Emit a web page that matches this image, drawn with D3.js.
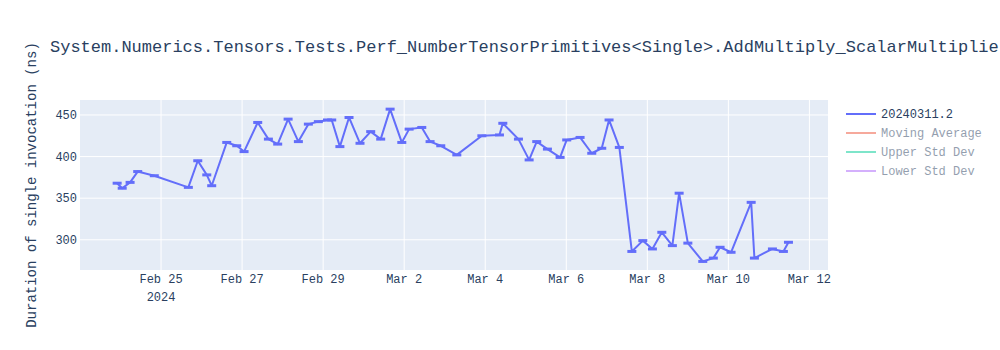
<!DOCTYPE html>
<html>
<head>
<meta charset="utf-8">
<script src="https://cdn.jsdelivr.net/npm/d3@7"></script>
<style>
	html, body { margin: 0; padding: 0; background: #fff; }
	svg { display: block; font-family: "Liberation Mono", "Courier New", monospace; }
</style>
</head>
<body>
<svg id="chart" width="1000" height="350"></svg>
<script>
'use strict';

var title = 'System.Numerics.Tensors.Tests.Perf_NumberTensorPrimitives<Single>.AddMultiply_ScalarMultiplier';
var yTitle = 'Duration of single invocation (ns)';
var seriesNames = ['20240311.2', 'Moving Average', 'Upper Std Dev', 'Lower Std Dev'];
var seriesColors = ['#636efa', '#EF553B', '#00cc96', '#ab63fa'];

var dates = [
	'2024-02-23T22:00', '2024-02-24T01:00', '2024-02-24T05:40', '2024-02-24T10:10', '2024-02-24T20:00',
	'2024-02-25T16:10', '2024-02-25T21:45', '2024-02-26T03:05', '2024-02-26T06:00', '2024-02-26T14:55',
	'2024-02-26T20:50', '2024-02-27T01:10', '2024-02-27T09:15', '2024-02-27T15:35', '2024-02-27T21:05',
	'2024-02-28T03:15', '2024-02-28T09:20', '2024-02-28T15:15', '2024-02-28T21:10', '2024-02-29T02:35',
	'2024-02-29T05:05', '2024-02-29T09:55', '2024-02-29T15:20', '2024-02-29T21:50', '2024-03-01T04:10',
	'2024-03-01T10:05', '2024-03-01T15:40', '2024-03-01T22:35', '2024-03-02T02:55', '2024-03-02T10:25',
	'2024-03-02T15:20', '2024-03-02T21:40', '2024-03-03T07:10', '2024-03-03T22:00', '2024-03-04T08:25',
	'2024-03-04T10:25', '2024-03-04T19:40', '2024-03-05T02:00', '2024-03-05T06:30', '2024-03-05T12:50',
	'2024-03-05T20:20', '2024-03-06T00:15', '2024-03-06T08:10', '2024-03-06T15:05', '2024-03-06T21:00',
	'2024-03-07T01:20', '2024-03-07T07:25', '2024-03-07T14:50', '2024-03-07T21:20', '2024-03-08T03:00',
	'2024-03-08T08:35', '2024-03-08T14:50', '2024-03-08T18:50', '2024-03-09T00:00', '2024-03-09T08:50',
	'2024-03-09T15:05', '2024-03-09T19:05', '2024-03-10T01:35', '2024-03-10T13:30', '2024-03-10T15:25',
	'2024-03-11T02:05', '2024-03-11T08:35', '2024-03-11T11:35'
];
var values = [
	368, 362, 369, 382, 377,
	363, 395, 378, 365, 417,
	413, 406, 441, 421, 415,
	445, 418, 439, 442, 444,
	444, 412, 447, 416, 430,
	421, 457, 417, 433, 435,
	418, 413, 402, 425, 426,
	440, 421, 396, 418, 409,
	399, 420, 423, 404, 410,
	444, 411, 286, 299, 289,
	309, 293, 356, 296, 274,
	278, 291, 285, 345, 278,
	289, 286, 297
];

var xTicks = ['2024-02-25', '2024-02-27', '2024-02-29', '2024-03-02', '2024-03-04',
	'2024-03-06', '2024-03-08', '2024-03-10', '2024-03-12'];
var yTicks = [300, 350, 400, 450];
var xRange = ['2024-02-23T00:00', '2024-03-12T11:00'];
var yRange = [263.7, 468];

(function() {

	var parse = d3.utcParse('%Y-%m-%dT%H:%M');
	var parseDay = d3.utcParse('%Y-%m-%d');
	var fmt = d3.utcFormat('%b %-d');
	var textColor = '#2a3f5f';

	var left = 80, right = 828, top = 100, bottom = 270;

	var points = [];
	dates.forEach(function(d, i) {
		points.push({ date: parse(d), value: values[i] });
	});

	var x = d3.scaleUtc()
		.domain([parse(xRange[0]), parse(xRange[1])])
		.range([left, right]);
	var y = d3.scaleLinear()
		.domain(yRange)
		.range([bottom, top]);

	var svg = d3.select('svg#chart');

	svg.append('rect')
		.attr('x', left)
		.attr('y', top)
		.attr('width', right - left)
		.attr('height', bottom - top)
		.style('fill', '#e5ecf6');

	var tickDates = xTicks.map(function(t) { return parseDay(t); });

	// grid
	svg.append('g').selectAll('line')
		.data(tickDates)
		.enter()
		.append('line')
		.attr('x1', function(d) { return x(d); })
		.attr('x2', function(d) { return x(d); })
		.attr('y1', top)
		.attr('y2', bottom)
		.style('stroke', '#fff')
		.style('stroke-width', 1);

	svg.append('g').selectAll('line')
		.data(yTicks)
		.enter()
		.append('line')
		.attr('x1', left)
		.attr('x2', right)
		.attr('y1', function(d) { return y(d); })
		.attr('y2', function(d) { return y(d); })
		.style('stroke', '#fff')
		.style('stroke-width', 1);

	// x tick labels
	var xl = svg.append('g')
		.style('font-size', '12px')
		.style('fill', textColor)
		.attr('text-anchor', 'middle');
	xl.selectAll('text.tick')
		.data(tickDates)
		.enter()
		.append('text')
		.attr('class', 'tick')
		.attr('x', function(d) { return x(d); })
		.attr('y', 283)
		.text(function(d) { return fmt(d); });
	xl.append('text')
		.attr('x', x(tickDates[0]))
		.attr('y', 301)
		.text(d3.utcFormat('%Y')(tickDates[0]));

	// y tick labels
	svg.append('g')
		.style('font-size', '12px')
		.style('fill', textColor)
		.attr('text-anchor', 'end')
		.selectAll('text')
		.data(yTicks)
		.enter()
		.append('text')
		.attr('x', 77)
		.attr('y', function(d) { return y(d) + 4; })
		.text(function(d) { return d; });

	// series
	var line = d3.line()
		.x(function(d) { return x(d.date); })
		.y(function(d) { return y(d.value); });

	svg.append('path')
		.datum(points)
		.attr('d', line)
		.style('fill', 'none')
		.style('stroke', seriesColors[0])
		.style('stroke-width', 2)
		.style('stroke-linejoin', 'round');

	svg.append('g').selectAll('line')
		.data(points)
		.enter()
		.append('line')
		.attr('x1', function(d) { return x(d.date) - 4.5; })
		.attr('x2', function(d) { return x(d.date) + 4.5; })
		.attr('y1', function(d) { return y(d.value); })
		.attr('y2', function(d) { return y(d.value); })
		.style('stroke', seriesColors[0])
		.style('stroke-width', 3);

	// legend
	var lg = svg.append('g')
		.style('font-size', '12px');
	seriesNames.forEach(function(name, i) {
		var ly = 114 + i * 19;
		var item = lg.append('g')
			.style('opacity', i === 0 ? 1 : 0.5);
		item.append('line')
			.attr('x1', 846)
			.attr('x2', 876)
			.attr('y1', ly)
			.attr('y2', ly)
			.style('stroke', seriesColors[i])
			.style('stroke-width', 2);
		item.append('text')
			.attr('x', 881)
			.attr('y', ly + 4)
			.style('fill', textColor)
			.text(name);
	});

	// titles
	svg.append('text')
		.attr('x', 50)
		.attr('y', 52)
		.style('font-size', '17px')
		.style('fill', textColor)
		.text(title);

	svg.append('text')
		.attr('transform', 'translate(36,' + ((top + bottom) / 2) + ') rotate(-90)')
		.attr('text-anchor', 'middle')
		.style('font-size', '14px')
		.style('fill', textColor)
		.text(yTitle);
})();
</script>
</body>
</html>
